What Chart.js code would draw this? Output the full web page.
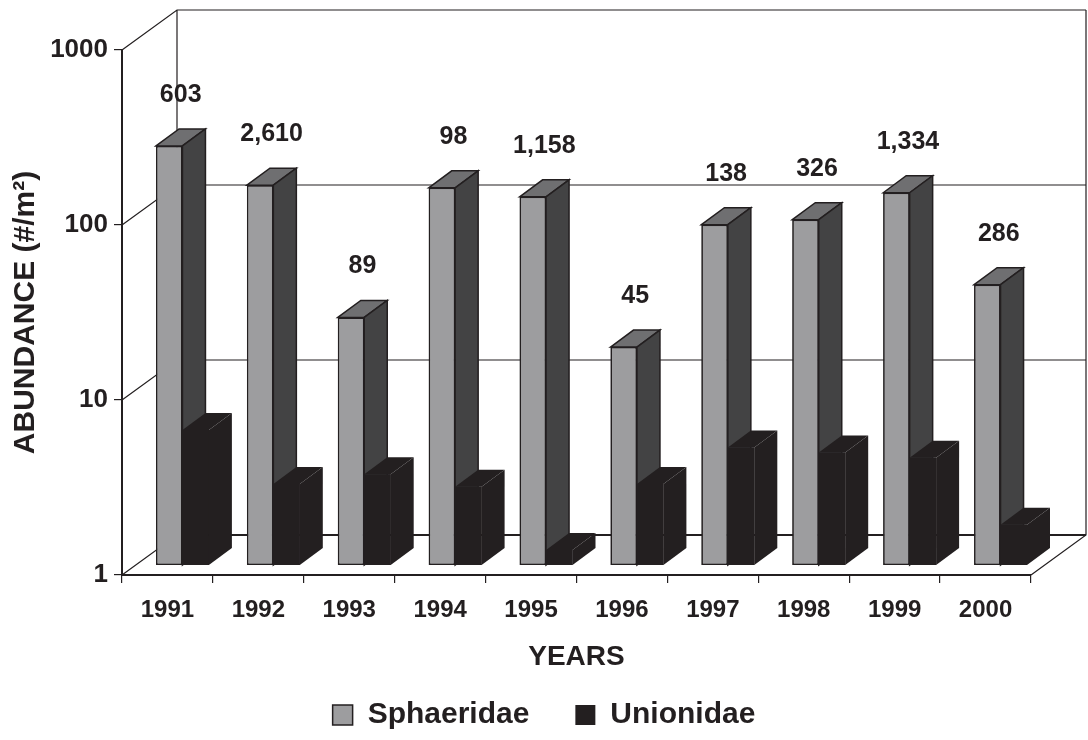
<!DOCTYPE html>
<html>
<head>
<meta charset="utf-8">
<title>Abundance</title>
<script src="https://cdn.jsdelivr.net/npm/chart.js@4"></script>
<style>
  body { margin: 0; background: #fff; }
</style>
</head>
<body>
<canvas id="abundanceChart" width="1088" height="740"></canvas>
<script>
// データ
const years = ['1991', '1992', '1993', '1994', '1995', '1996', '1997', '1998', '1999', '2000'];
const sphaeridae = [248, 148, 26, 143, 127, 17.6, 88, 94, 134, 40];
const unionidae = [5.9, 2.9, 3.3, 2.8, 1.22, 2.9, 4.7, 4.4, 4.1, 1.7];
const totals = ['603', '2,610', '89', '98', '1,158', '45', '138', '326', '1,334', '286'];
const yTicks = [1, 10, 100, 1000];

const DARK = '#231f20';
const FONT = "'Liberation Sans', Arial, sans-serif";

// 3D表示用のずれ
const WALL_X = 55, WALL_Y = -40;   // 奥の壁
const BAR_X = 15, BAR_Y = -10;     // 棒の前面
const SIDE_X = 23, SIDE_Y = -17;   // 棒の奥行き

// 面の色
const faceColors = [
    { top: '#6f6f71', side: '#434344', line: DARK },
    { top: DARK, side: DARK, line: null }
];

Chart.defaults.font.family = FONT;
Chart.defaults.color = DARK;

// 多角形を塗る
function fillPoly(ctx, pts, fill, line) {
    ctx.beginPath();
    ctx.moveTo(pts[0][0], pts[0][1]);
    for (let i = 1; i < pts.length; i++) ctx.lineTo(pts[i][0], pts[i][1]);
    ctx.closePath();
    ctx.fillStyle = fill;
    ctx.fill();
    if (line) {
        ctx.strokeStyle = line;
        ctx.lineWidth = 1.5;
        ctx.stroke();
    }
}

const box3d = {
    id: 'box3d',
    beforeDatasetsDraw(chart) {
        const { ctx, chartArea: a, scales: { y } } = chart;
        ctx.save();
        ctx.strokeStyle = DARK;
        ctx.lineWidth = 1.2;
        ctx.beginPath();
        yTicks.forEach(v => {
            const py = y.getPixelForValue(v);
            ctx.moveTo(a.left, py);
            ctx.lineTo(a.left + WALL_X, py + WALL_Y);
            ctx.lineTo(a.right + WALL_X, py + WALL_Y);
        });
        ctx.moveTo(a.left + WALL_X, a.top + WALL_Y);
        ctx.lineTo(a.left + WALL_X, a.bottom + WALL_Y);
        ctx.moveTo(a.right + WALL_X, a.top + WALL_Y);
        ctx.lineTo(a.right + WALL_X, a.bottom + WALL_Y);
        ctx.lineTo(a.right, a.bottom);
        ctx.stroke();
        // 床の奥の線
        ctx.lineWidth = 2.2;
        ctx.beginPath();
        ctx.moveTo(a.left + WALL_X, a.bottom + WALL_Y);
        ctx.lineTo(a.right + WALL_X, a.bottom + WALL_Y);
        ctx.stroke();
        ctx.restore();

        ctx.save();
        ctx.translate(BAR_X, BAR_Y);
    },
    afterDatasetsDraw(chart) {
        const ctx = chart.ctx;
        const metas = chart.data.datasets.map((d, i) => chart.getDatasetMeta(i));
        // 左の系列から順に描き直す
        years.forEach((yr, j) => {
            metas.forEach((meta, i) => {
                const bar = meta.data[j];
                const { x, y, base, width } = bar.getProps(['x', 'y', 'base', 'width'], true);
                const l = x - width / 2, r = x + width / 2;
                const c = faceColors[i];
                bar.draw(ctx);
                fillPoly(ctx, [[l, y], [l + SIDE_X, y + SIDE_Y], [r + SIDE_X, y + SIDE_Y], [r, y]], c.top, c.line);
                fillPoly(ctx, [[r, y], [r + SIDE_X, y + SIDE_Y], [r + SIDE_X, base + SIDE_Y], [r, base]], c.side, c.line);
            });
        });
        // 棒の上の数値
        ctx.font = 'bold 25px ' + FONT;
        ctx.fillStyle = DARK;
        ctx.textAlign = 'center';
        ctx.textBaseline = 'middle';
        metas[0].data.forEach((bar, j) => {
            const { x, y } = bar.getProps(['x', 'y'], true);
            ctx.fillText(totals[j], x + SIDE_X / 2, y + SIDE_Y - 34);
        });
        ctx.restore();
    }
};

new Chart(document.getElementById('abundanceChart').getContext('2d'), {
    type: 'bar',
    data: {
        labels: years,
        datasets: [
            {
                label: 'Sphaeridae',
                data: sphaeridae,
                backgroundColor: '#9d9d9f',
                borderColor: DARK,
                borderWidth: 1.5,
                borderSkipped: false,
                clip: false
            },
            {
                label: 'Unionidae',
                data: unionidae,
                backgroundColor: DARK,
                borderColor: DARK,
                borderWidth: 0,
                clip: false
            }
        ]
    },
    options: {
        responsive: false,
        animation: false,
        categoryPercentage: 0.582,
        barPercentage: 1.0,
        layout: { padding: { top: 50, right: 0, left: 0, bottom: 0 } },
        plugins: {
            tooltip: { enabled: false },
            legend: {
                position: 'bottom',
                labels: {
                    boxWidth: 20,
                    boxHeight: 20,
                    padding: 46,
                    color: DARK,
                    font: { size: 30, weight: 'bold' }
                }
            }
        },
        scales: {
            x: {
                grid: { offset: true, drawOnChartArea: false, tickLength: 8, color: DARK, lineWidth: 1.2 },
                border: { color: DARK, width: 2 },
                ticks: { padding: 13, font: { size: 24, weight: 'bold' }, color: DARK },
                title: {
                    display: true,
                    text: 'YEARS',
                    color: DARK,
                    font: { size: 28, weight: 'bold' },
                    padding: { top: 0, bottom: -20 }
                },
                afterFit(scale) {
                    const lh = scale.chart.legend ? scale.chart.legend.height : 0;
                    scale.height = 740 - 575 - lh;
                }
            },
            y: {
                type: 'logarithmic',
                min: 1,
                max: 1000,
                grid: { drawOnChartArea: false, tickLength: 8, color: DARK, lineWidth: 1.2 },
                border: { color: DARK, width: 2 },
                ticks: {
                    padding: 6,
                    font: { size: 26, weight: 'bold' },
                    color: DARK,
                    callback: v => String(v)
                },
                afterBuildTicks(scale) {
                    scale.ticks = yTicks.map(v => ({ value: v }));
                },
                title: {
                    display: true,
                    text: 'ABUNDANCE (#/m²)',
                    color: DARK,
                    font: { size: 30, weight: 'bold' },
                    padding: { top: 8, bottom: 0 }
                },
                afterFit(scale) {
                    scale.width = 122;
                }
            },
            // 右側の余白だけを取る空の軸
            yRight: {
                type: 'linear',
                position: 'right',
                grid: { display: false },
                border: { display: false },
                ticks: { display: false },
                afterFit(scale) {
                    scale.width = 57;
                }
            }
        }
    },
    plugins: [box3d]
});
</script>
</body>
</html>
